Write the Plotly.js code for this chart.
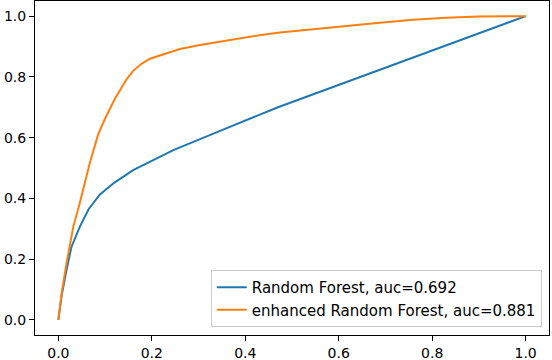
<!DOCTYPE html>
<html>
<head>
<meta charset="utf-8">
<script src="https://cdn.plot.ly/plotly-3.0.1.min.js"></script>
<style>
  html, body { margin: 0; padding: 0; background: #fff; }
  #plot { width: 552px; height: 360px; }
</style>
</head>
<body>
<div id="plot"></div>
<script>
// ROC curve points
let rfFpr = [0, 0.007, 0.0175, 0.028, 0.046, 0.065, 0.089, 0.12, 0.16, 0.246, 0.35, 0.47, 1.0];
let rfTpr = [0, 0.08, 0.164, 0.24, 0.307, 0.365, 0.413, 0.452, 0.493, 0.559, 0.625, 0.70, 1.0];

let erfFpr = [0, 0.007, 0.0175, 0.032, 0.045, 0.057, 0.067, 0.085, 0.1, 0.121, 0.133, 0.146, 0.16,
              0.178, 0.196, 0.231, 0.26, 0.303, 0.35, 0.388, 0.43, 0.474, 0.545, 0.616, 0.688,
              0.759, 0.83, 0.9, 1.0];
let erfTpr = [0, 0.088, 0.187, 0.307, 0.38, 0.45, 0.515, 0.61, 0.663, 0.728, 0.76, 0.792, 0.82,
              0.843, 0.86, 0.877, 0.892, 0.905, 0.917, 0.927, 0.937, 0.946, 0.957, 0.969, 0.978,
              0.988, 0.995, 0.999, 1.0];

let names = ['Random Forest, auc=0.692', 'enhanced Random Forest, auc=0.881'];
let tickVals = [0, 0.2, 0.4, 0.6, 0.8, 1.0];
let tickText = ['0.0', '0.2', '0.4', '0.6', '0.8', '1.0'];

let trace1 = {
    x: rfFpr,
    y: rfTpr,
    mode: 'lines',
    name: names[0],
    line: {color: '#1f77b4', width: 2}
};

let trace2 = {
    x: erfFpr,
    y: erfTpr,
    mode: 'lines',
    name: names[1],
    line: {color: '#ff7f0e', width: 2}
};

let axisStyle = {
    range: [-0.05, 1.05],
    tickvals: tickVals,
    ticktext: tickText,
    ticks: 'outside',
    ticklen: 5,
    tickwidth: 1,
    tickcolor: '#000',
    showline: true,
    mirror: true,
    linecolor: '#000',
    linewidth: 1,
    showgrid: false,
    zeroline: false,
    tickfont: {size: 14, color: '#000'}
};

let layout = {
    width: 552,
    height: 360,
    margin: {l: 35, r: 3, t: 1, b: 25},
    paper_bgcolor: '#fff',
    plot_bgcolor: '#fff',
    font: {family: 'DejaVu Sans', size: 14, color: '#000'},
    xaxis: Object.assign({}, axisStyle),
    yaxis: Object.assign({}, axisStyle),
    showlegend: true,
    legend: {
        x: 0.986,
        y: 0.024,
        xanchor: 'right',
        yanchor: 'bottom',
        bgcolor: 'rgba(255,255,255,0.8)',
        bordercolor: '#cccccc',
        borderwidth: 1,
        itemwidth: 30,
        tracegroupgap: 0,
        font: {size: 15, color: '#000'}
    }
};

Plotly.newPlot('plot', [trace1, trace2], layout, {staticPlot: true});
</script>
</body>
</html>
